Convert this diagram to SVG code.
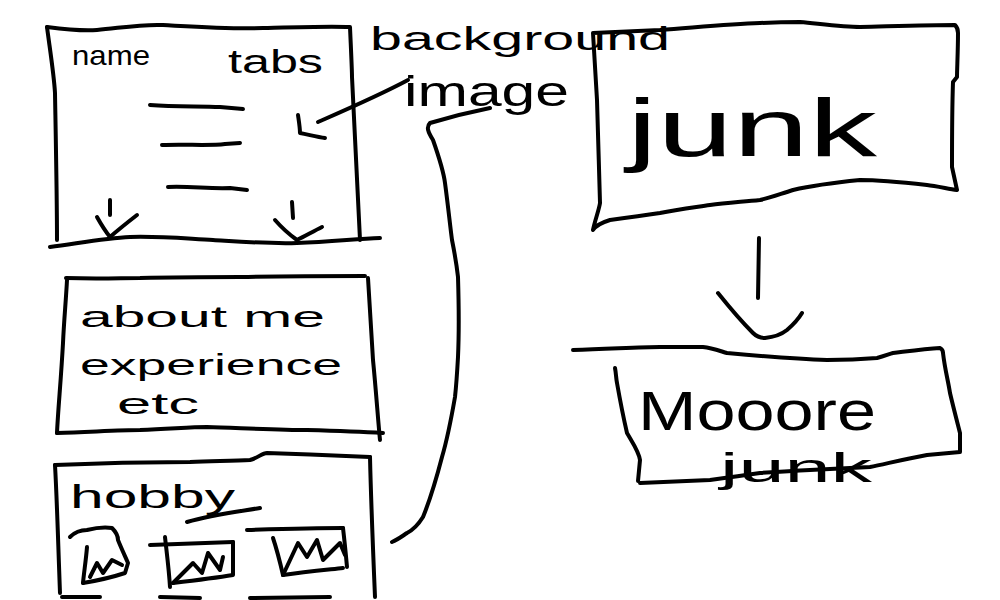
<svg xmlns="http://www.w3.org/2000/svg" width="1000" height="600" viewBox="0 0 1000 600">
<style>
.s{fill:none;stroke:#000;stroke-width:4;stroke-linecap:round;stroke-linejoin:round}
.t{font-family:"Liberation Sans","DejaVu Sans",sans-serif;fill:#000}
</style>
<rect width="1000" height="600" fill="#fff"/>
<g id="header">
<path class="s" d="M47,27 C70,30 85,31 97,30 C120,28 140,24 163,25 C200,27 230,29 263,28 C300,27 330,26 350,27 C351,50 352,70 352,77 C355,140 358,200 360,240"/>
<path class="s" d="M47,27 C50,50 54,75 55,93 C56,150 57,200 57,240"/>
<path class="s" d="M50,247 C80,243 105,238 130,237 C160,236 190,239 213,240 C245,242 270,244 297,243 C330,242 355,239 380,238"/>
<text class="t" x="72" y="65" font-size="28" textLength="78" lengthAdjust="spacingAndGlyphs">name</text>
<text class="t" x="228" y="73" font-size="34" textLength="95" lengthAdjust="spacingAndGlyphs">tabs</text>
<path class="s" d="M150,105 C175,107 200,106 220,107 L243,109"/>
<path class="s" d="M162,145 C185,144 210,146 225,144 L240,143"/>
<path class="s" d="M168,187 C190,186 210,189 230,188 L247,190"/>
</g>
<g id="about">
<path class="s" d="M66,278 C100,279 120,278 140,278 C180,277 210,277 240,277 C290,276 330,276 365,276"/>
<path class="s" d="M67,280 C66,300 64,320 63,343 C61,380 58,410 57,433"/>
<path class="s" d="M368,278 C370,310 372,340 373,360 C376,390 378,420 380,440"/>
<path class="s" d="M57,433 C90,432 120,430 140,430 C170,429 190,427 207,427 C240,428 280,430 307,430 C340,431 365,432 383,433"/>
<text class="t" x="80" y="327" font-size="30" textLength="245" lengthAdjust="spacingAndGlyphs">about me</text>
<text class="t" x="80" y="375" font-size="30" textLength="262" lengthAdjust="spacingAndGlyphs">experience</text>
<text class="t" x="117" y="414" font-size="30" textLength="82" lengthAdjust="spacingAndGlyphs">etc</text>
</g>
<g id="hobby">
<path class="s" d="M55,465 C100,463 150,462 190,462 C215,461 235,461 250,460 C258,458 262,453 267,453 C300,454 340,456 370,457"/>
<path class="s" d="M55,465 C57,500 58,540 60,593"/>
<path class="s" d="M370,457 C371,500 373,550 375,597"/>
<path class="s" d="M62,597 L100,597 M160,597 L200,598 M250,598 L330,597"/>
<text class="t" x="70" y="508" font-size="34" textLength="165" lengthAdjust="spacingAndGlyphs">hobby</text>
<path class="s" d="M187,522 C210,515 235,512 260,508"/>
<path class="s" d="M70,537 C75,532 80,530 87,530 C95,528 105,527 112,528 C116,532 118,536 118,540 C122,550 126,558 128,563 L125,573 C110,578 95,581 83,583"/>
<path class="s" d="M87,547 C86,560 84,572 83,583"/>
<path class="s" d="M90,577 L97,563 L103,573 L112,560 L122,565"/>
<path class="s" d="M150,545 C180,544 210,543 233,542"/>
<path class="s" d="M165,537 C167,555 169,570 170,587"/>
<path class="s" d="M233,542 L233,575 C215,578 190,581 173,583"/>
<path class="s" d="M173,583 L193,563 L202,573 L208,553 L220,570 L223,557"/>
<path class="s" d="M247,530 C280,529 315,528 343,528"/>
<path class="s" d="M273,538 C277,550 280,562 283,575"/>
<path class="s" d="M283,575 C305,572 325,570 343,568"/>
<path class="s" d="M343,528 C345,545 346,556 347,567"/>
<path class="s" d="M283,575 L298,543 L307,557 L317,540 L323,560 L340,543 L345,555"/>
</g>
<g id="label-background">
<text class="t" x="370" y="50" font-size="34" textLength="300" lengthAdjust="spacingAndGlyphs">background</text>
<text class="t" x="404" y="106" font-size="42" textLength="165" lengthAdjust="spacingAndGlyphs">image</text>
</g>
<g id="junk">
<path class="s" d="M593,33 C620,32 640,31 660,30 C700,27 730,24 760,23 C780,22 800,22 800,22 C830,25 845,27 860,27 C900,26 930,25 955,25 C958,28 958,30 958,33 C958,50 957,70 957,77 L953,82 C952,110 952,150 952,167 L957,190 C945,188 935,186 927,185 C900,182 880,180 860,180 C830,183 810,186 793,190 C780,194 770,198 760,200 C740,202 725,203 710,205 C690,208 675,210 660,213 C640,216 625,218 610,220 C600,223 595,227 593,230 C595,220 599,210 600,203 C599,170 598,130 597,100 C595,70 594,50 593,33 Z"/>
<text class="t" x="627" y="156" font-size="82" textLength="250" lengthAdjust="spacingAndGlyphs">junk</text>
</g>
<g id="more-junk">
<path class="s" d="M573,350 C610,349 640,347 660,347 L703,347 C712,348 720,351 727,353 C760,356 795,359 827,360 C850,360 865,359 877,358 C885,356 889,354 893,353 C910,351 925,349 940,348 C942,349 943,351 943,353 C945,370 948,380 950,393 C954,410 958,425 960,433 L960,452 C950,453 937,454 927,455 C905,459 885,464 870,467 C850,468 830,469 810,470 C790,471 775,472 760,473 C740,476 725,478 710,480 C685,481 660,482 640,483"/>
<path class="s" d="M615,368 C616,373 616,378 617,383 C620,400 624,420 627,433 C634,445 639,452 640,460 L638,481"/>
<text class="t" x="638" y="430" font-size="56" textLength="238" lengthAdjust="spacingAndGlyphs">Mooore</text>
<text class="t" x="720" y="482" font-size="40" textLength="152" lengthAdjust="spacingAndGlyphs">junk</text>
</g>
<g id="connectors">
<path class="s" d="M110,200 L110,215 M97,217 C102,226 106,232 110,237 C118,230 128,222 137,215"/>
<path class="s" d="M292,202 L293,218 M275,220 C282,228 290,235 297,240 C305,236 314,231 322,227"/>
<path class="s" d="M408,80 C380,95 350,108 318,122"/>
<path class="s" d="M298,115 C299,122 300,128 300,133 C310,135 318,137 325,138"/>
<path class="s" d="M490,108 C470,112 450,117 430,123 C426,127 428,132 433,140 C440,160 444,175 445,183 C448,205 450,225 452,240 C455,255 457,268 458,277 C459,310 459,335 458,357 C457,375 456,388 455,397 C451,420 447,440 442,457 C436,480 430,500 423,517 C418,525 413,530 407,533 C401,537 397,540 392,542"/>
<path class="s" d="M759,238 L758,298"/>
<path class="s" d="M718,293 C730,308 742,322 753,333 C757,337 761,338 765,338 C775,337 782,334 787,330 C794,324 799,318 802,313"/>
</g>
</svg>
